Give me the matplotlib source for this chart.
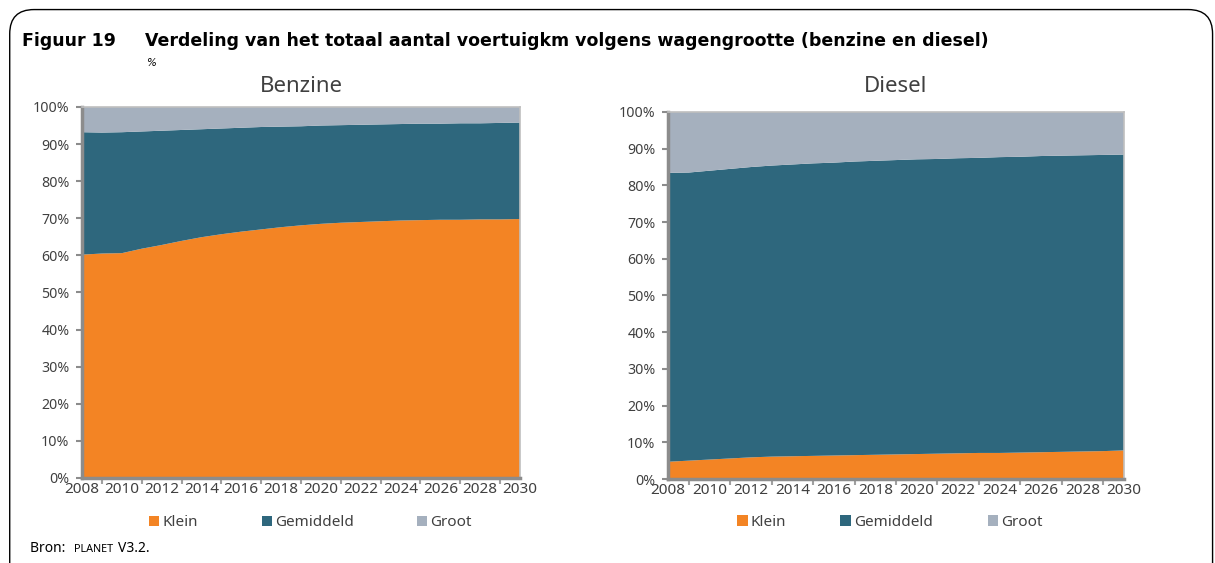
import matplotlib
matplotlib.use("Agg")
import matplotlib.pyplot as plt
from matplotlib.patches import FancyBboxPatch, Patch
from matplotlib.legend import Legend
from matplotlib.ticker import FixedLocator

years = list(range(2008, 2031))
series_names = ["Klein", "Gemiddeld", "Groot"]

benzine_klein = [60.2, 60.5, 60.6, 61.8, 62.8, 63.9, 64.9, 65.7, 66.4, 67.0, 67.6, 68.1,
                 68.5, 68.8, 69.0, 69.2, 69.4, 69.5, 69.6, 69.6, 69.7, 69.7, 69.8]
benzine_gemiddeld = [33.0, 32.6, 32.6, 31.6, 30.8, 29.9, 29.1, 28.5, 28.0, 27.6, 27.1, 26.7,
                     26.5, 26.3, 26.2, 26.1, 26.0, 26.0, 25.9, 26.0, 25.9, 26.0, 26.0]
benzine_groot = [6.8, 6.9, 6.8, 6.6, 6.4, 6.2, 6.0, 5.8, 5.6, 5.4, 5.3, 5.2,
                 5.0, 4.9, 4.8, 4.7, 4.6, 4.5, 4.5, 4.4, 4.4, 4.3, 4.2]

diesel_klein = [4.7, 5.0, 5.3, 5.6, 5.9, 6.1, 6.2, 6.3, 6.4, 6.5, 6.6, 6.7,
                6.8, 6.9, 7.0, 7.1, 7.1, 7.2, 7.3, 7.4, 7.5, 7.6, 7.8]
diesel_gemiddeld = [78.7, 78.5, 78.7, 78.9, 79.1, 79.3, 79.5, 79.7, 79.8, 80.0, 80.1, 80.2,
                    80.3, 80.3, 80.4, 80.4, 80.6, 80.6, 80.7, 80.7, 80.7, 80.7, 80.6]
diesel_groot = [16.6, 16.5, 16.0, 15.5, 15.0, 14.6, 14.3, 14.0, 13.8, 13.5, 13.3, 13.1,
                12.9, 12.8, 12.6, 12.5, 12.3, 12.2, 12.0, 11.9, 11.8, 11.7, 11.6]

y_ticks = list(range(0, 101, 10))
y_labels = [f"{v}%" for v in y_ticks]
x_labels = list(range(2008, 2031, 2))

colors = ["#F38424", "#2E677D", "#A5B0BE"]
text_color = "#404040"
font = "Noto Sans"

fig = plt.figure(figsize=(12.15, 5.63), dpi=100)

# rounded frame
frame = FancyBboxPatch((0.008, -0.2), 0.99, 1.183, boxstyle="round,pad=0,rounding_size=0.02",
                       transform=fig.transFigure, fill=False, edgecolor="#000000", linewidth=1.0,
                       mutation_aspect=12.15 / 5.63)
fig.patches.append(frame)

fig.text(0.018, 0.918, "Figuur 19", fontsize=12.5, fontweight="bold", family="DejaVu Sans",
         color="#000000", va="baseline")
fig.text(0.119, 0.918, "Verdeling van het totaal aantal voertuigkm volgens wagengrootte (benzine en diesel)",
         fontsize=12.5, fontweight="bold", family="DejaVu Sans", color="#000000", va="baseline")
fig.text(0.120, 0.882, "%", fontsize=7.5, family="DejaVu Sans", color="#000000", va="baseline",
         style="italic")
fig.text(0.025, 0.019, "Bron: ", fontsize=10, family=font, color="#000000", va="baseline")
fig.text(0.061, 0.019, "PLANET", fontsize=7.8, family=font, color="#000000", va="baseline")
fig.text(0.097, 0.019, "V3.2.", fontsize=10, family=font, color="#000000", va="baseline")

panels = [
    ("Benzine", [0.0675, 0.151, 0.3605, 0.659], [benzine_klein, benzine_gemiddeld, benzine_groot],
     [0.152, 0.410, 0.764], -0.121),
    ("Diesel", [0.5498, 0.1492, 0.3753, 0.6519], [diesel_klein, diesel_gemiddeld, diesel_groot],
     [0.151, 0.377, 0.701], -0.119),
]

for title, rect, data, leg_x, leg_y in panels:
    ax = fig.add_axes(rect)
    ax.stackplot(years, *data, colors=colors, labels=series_names, linewidth=0)
    ax.set_xlim(2008, 2030)
    ax.set_ylim(0, 100)
    ax.set_yticks(y_ticks)
    ax.set_yticklabels(y_labels, fontsize=10.2, family=font, color=text_color)
    ax.set_xticks(x_labels)
    ax.set_xticklabels([str(v) for v in x_labels], fontsize=11, family=font, color=text_color)
    ax.xaxis.set_minor_locator(FixedLocator(list(range(2009, 2031, 2))))
    ax.tick_params(axis="x", which="major", length=0, pad=3)
    ax.tick_params(axis="x", which="minor", length=4, width=1.5, color="#A0A0A0")
    ax.tick_params(axis="y", length=4, width=1.5, color="#8C8C8C", pad=5)
    for s in ["left", "bottom"]:
        ax.spines[s].set_color("#8C8C8C")
        ax.spines[s].set_linewidth(2.5)
    for s in ["top", "right"]:
        ax.spines[s].set_color("#BFBFBF")
        ax.spines[s].set_linewidth(1.2)
    cx = rect[0] + rect[2] / 2
    fig.text(cx, 0.847, title, fontsize=16, family=font, color=text_color, ha="center", va="center")
    for name, c, lx in zip(series_names, colors, leg_x):
        lg = Legend(ax, [Patch(facecolor=c, edgecolor="none")], [name], loc="center left",
                    bbox_to_anchor=(lx, leg_y), frameon=False, borderpad=0, borderaxespad=0,
                    prop={"family": font, "size": 11}, labelcolor=text_color,
                    handlelength=0.7, handleheight=0.7, handletextpad=0.2)
        ax.add_artist(lg)

fig.savefig("out.png", dpi=100)
